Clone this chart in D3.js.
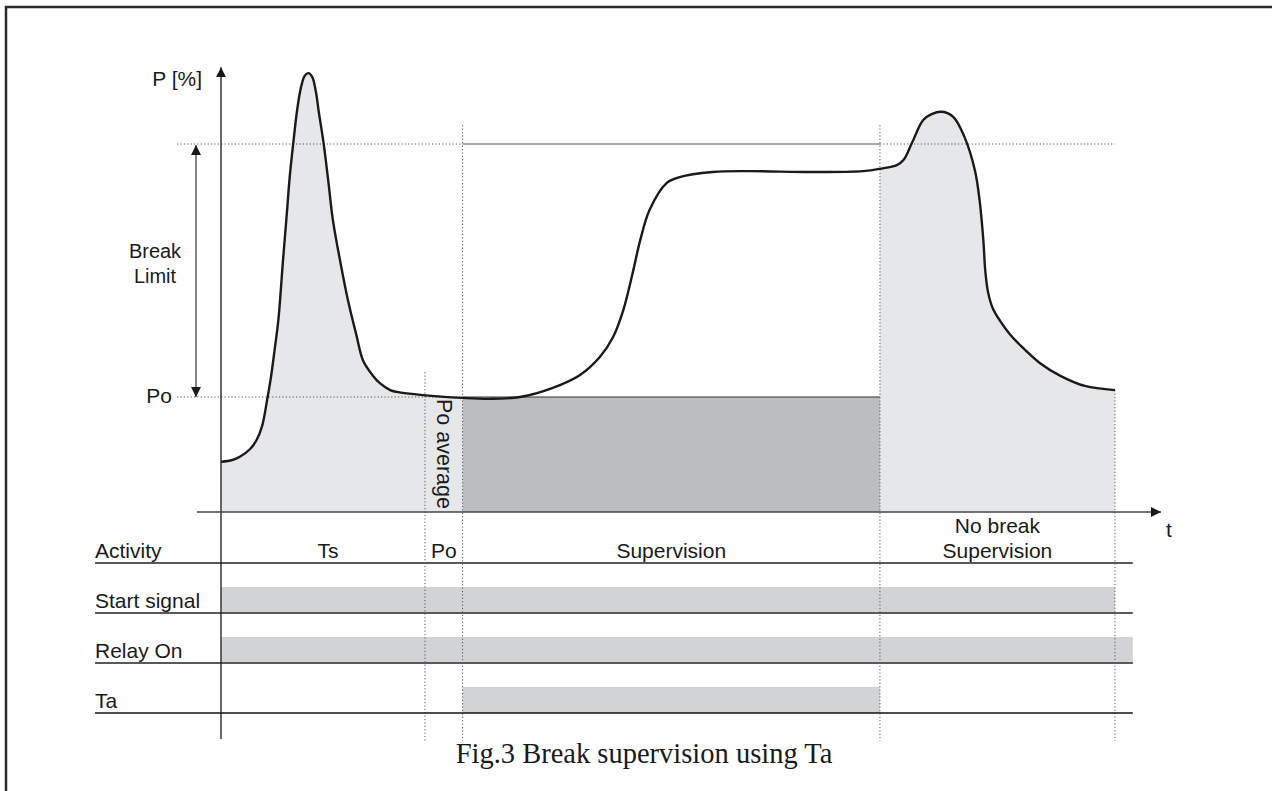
<!DOCTYPE html>
<html>
<head>
<meta charset="utf-8">
<script src="https://cdn.jsdelivr.net/npm/d3@7"></script>
<style>
  html, body { margin: 0; padding: 0; background: #fff; }
  svg { display: block; }
  text { font-family: "Liberation Sans", Arial, sans-serif; fill: #1a1a1a; }
</style>
</head>
<body>
<script>
// ---------- data ----------
const curveT   = [0, 1.2, 2.0, 3.1, 3.8, 4.4, 4.9, 5.3, 5.7, 6.1, 6.6, 7.0, 7.3, 7.7, 8.1, 8.5, 8.9, 9.3, 9.7, 10.1, 10.4, 10.9, 11.4, 11.9, 12.7, 13.5, 14.4, 15.1, 16.1, 16.9, 18.0, 18.7, 21.5, 25.7, 28.6, 31.8, 35.3, 38.2, 40.3, 41.7, 42.8, 43.8, 44.6, 45.6, 47.4, 48.8, 52.3, 56.0, 63.0, 68.3, 70.1, 71.9, 72.6, 73.5, 74.7, 75.6, 76.7, 77.9, 79.1, 80.2, 80.7, 81.1, 81.3, 81.6, 82.1, 82.9, 83.9, 85.0, 87.1, 89.3, 91.9, 95.1];
const curvePct = [10.9, 11.3, 12.0, 13.7, 15.7, 18.9, 24.3, 29.1, 35.2, 41.7, 54.8, 64.8, 72.6, 80.4, 87.4, 92.2, 94.8, 95.4, 94.6, 91.3, 87.0, 80.4, 72.2, 63.5, 54.3, 46.1, 38.5, 33.0, 29.8, 28.0, 26.5, 26.1, 25.4, 24.8, 24.6, 25.0, 27.0, 29.8, 33.7, 38.0, 43.9, 52.0, 59.1, 65.7, 71.5, 72.8, 73.9, 74.1, 73.9, 74.1, 74.6, 75.4, 76.5, 80.2, 85.2, 86.5, 87.0, 85.9, 81.5, 74.3, 67.8, 59.1, 52.6, 47.8, 44.3, 41.5, 38.7, 36.3, 32.4, 29.6, 27.4, 26.5];

const P0 = 25;          // Po level [%]
const breakLimit = 80;  // Po + Break Limit [%]
const pAxisTop = 96.7;
const tAxisEnd = 100;

const phaseNames  = ["Ts", "Po", "Supervision", "No break\nSupervision"];
const phaseStarts = [0, 21.7, 25.7, 70.1];
const phaseEnds   = [21.7, 25.7, 70.1, 95.1];

const rowLabels   = ["Activity", "Start signal", "Relay On", "Ta"];
const signalOn    = [null, 0, 0, 25.7];
const signalOff   = [null, 95.1, 97.0, 70.1];
const rowsEnd     = 97.0;

const title = "Fig.3 Break supervision using Ta";

// ---------- layout ----------
const W = 1272, H = 791;
const x = d3.scaleLinear().domain([0, 100]).range([221, 1161]);
const y = d3.scaleLinear().domain([0, 100]).range([512, 52]);
const rowBottom = d3.scaleLinear().domain([0, 1]).range([563, 613]); // row index -> bottom line
const rowH = 26;
const labelX = 95;
const bottomY = 741;
const leftDotX = 177;
const curveType = d3.curveCatmullRom.alpha(0.5);

const svg = d3.select("body").append("svg").attr("width", W).attr("height", H);
const defs = svg.append("defs");
defs.append("marker").attr("id", "arr")
  .attr("markerUnits", "userSpaceOnUse")
  .attr("markerWidth", 11).attr("markerHeight", 11)
  .attr("refX", 10).attr("refY", 5).attr("orient", "auto-start-reverse")
  .append("path").attr("d", "M0,0 L10,5 L0,10 Z").attr("fill", "#1a1a1a");

const tBreaks = [phaseStarts[0], phaseEnds[1], phaseStarts[3], phaseEnds[3]];
defs.append("clipPath").attr("id", "lightClip").selectAll("rect")
  .data([[tBreaks[0], tBreaks[1]], [tBreaks[2], tBreaks[3]]])
  .join("rect")
  .attr("x", d => x(d[0])).attr("width", d => x(d[1]) - x(d[0]))
  .attr("y", 0).attr("height", y(0));

// frame
svg.append("rect").attr("x", 6).attr("y", 7).attr("width", W + 20).attr("height", H + 20)
  .attr("fill", "none").attr("stroke", "#2a2a2a").attr("stroke-width", 2.5);

const pts = curveT.map((t, i) => ({t, p: curvePct[i]}));

// light fill under curve
svg.append("path").datum(pts)
  .attr("clip-path", "url(#lightClip)")
  .attr("fill", "#e6e7e8")
  .attr("d", d3.area().x(d => x(d.t)).y0(y(0)).y1(d => y(d.p)).curve(curveType));

// dark Po block during Ta
svg.append("rect")
  .attr("x", x(phaseStarts[2])).attr("width", x(phaseEnds[2]) - x(phaseStarts[2]))
  .attr("y", y(P0)).attr("height", y(0) - y(P0))
  .attr("fill", "#bcbdc0");

// timing rows: bars
rowLabels.forEach((lab, i) => {
  if (signalOn[i] !== null) {
    svg.append("rect")
      .attr("x", x(signalOn[i])).attr("width", x(signalOff[i]) - x(signalOn[i]))
      .attr("y", rowBottom(i) - rowH).attr("height", rowH)
      .attr("fill", "#d1d3d4");
  }
});

const dotted = "1.2,2.2";
// horizontal reference lines
svg.append("line").attr("x1", leftDotX).attr("x2", x(phaseStarts[2]))
  .attr("y1", y(breakLimit)).attr("y2", y(breakLimit))
  .attr("stroke", "#555").attr("stroke-width", 1).attr("stroke-dasharray", dotted);
svg.append("line").attr("x1", x(phaseStarts[2])).attr("x2", x(phaseEnds[2]))
  .attr("y1", y(breakLimit)).attr("y2", y(breakLimit))
  .attr("stroke", "#555").attr("stroke-width", 1.2);
svg.append("line").attr("x1", x(phaseEnds[2])).attr("x2", x(phaseEnds[3]))
  .attr("y1", y(breakLimit)).attr("y2", y(breakLimit))
  .attr("stroke", "#555").attr("stroke-width", 1).attr("stroke-dasharray", dotted);

svg.append("line").attr("x1", leftDotX).attr("x2", x(phaseStarts[2]))
  .attr("y1", y(P0)).attr("y2", y(P0))
  .attr("stroke", "#555").attr("stroke-width", 1).attr("stroke-dasharray", dotted);
svg.append("line").attr("x1", x(phaseStarts[2])).attr("x2", x(phaseEnds[2]))
  .attr("y1", y(P0)).attr("y2", y(P0))
  .attr("stroke", "#333").attr("stroke-width", 1.2);

// vertical dotted event lines
const vTop = [y(30.4), y(84.1), y(84.1), y(curvePct[curvePct.length - 1])];
[phaseStarts[1], phaseStarts[2], phaseStarts[3], phaseEnds[3]].forEach((t, i) => {
  svg.append("line").attr("x1", x(t)).attr("x2", x(t))
    .attr("y1", vTop[i]).attr("y2", bottomY)
    .attr("stroke", "#555").attr("stroke-width", 1).attr("stroke-dasharray", dotted);
});

// row lines
rowLabels.forEach((lab, i) => {
  const last = i === rowLabels.length - 1;
  svg.append("line").attr("x1", labelX).attr("x2", x(rowsEnd))
    .attr("y1", rowBottom(i)).attr("y2", rowBottom(i))
    .attr("stroke", last ? "#111" : "#5a5a5a").attr("stroke-width", last ? 1.5 : 2);
  svg.append("text").attr("x", labelX).attr("y", rowBottom(i) - 5.5)
    .attr("font-size", 21).text(lab);
});

// axes
svg.append("line").attr("x1", x(0)).attr("x2", x(0))
  .attr("y1", bottomY - 2).attr("y2", y(pAxisTop))
  .attr("stroke", "#1a1a1a").attr("stroke-width", 1.3).attr("marker-end", "url(#arr)");
svg.append("line").attr("x1", 197).attr("x2", x(tAxisEnd))
  .attr("y1", y(0)).attr("y2", y(0))
  .attr("stroke", "#444").attr("stroke-width", 1.5).attr("marker-end", "url(#arr)");

// break-limit double arrow
svg.append("line").attr("x1", 196).attr("x2", 196)
  .attr("y1", y(P0)).attr("y2", y(breakLimit) + 1)
  .attr("stroke", "#333").attr("stroke-width", 1.2)
  .attr("marker-start", "url(#arr)").attr("marker-end", "url(#arr)");

// curve
svg.append("path").datum(pts)
  .attr("fill", "none").attr("stroke", "#1a1a1a").attr("stroke-width", 2.4)
  .attr("stroke-linejoin", "round")
  .attr("d", d3.line().x(d => x(d.t)).y(d => y(d.p)).curve(curveType));

// labels
svg.append("text").attr("x", 202).attr("y", 86).attr("text-anchor", "end")
  .attr("font-size", 21).text("P [%]");
svg.append("text").attr("x", 1166).attr("y", 537).attr("font-size", 21).text("t");
svg.append("text").attr("x", 172).attr("y", y(P0) + 6).attr("text-anchor", "end")
  .attr("font-size", 21).text("Po");
svg.append("text").attr("x", 155).attr("y", 258).attr("text-anchor", "middle")
  .attr("font-size", 20).text("Break");
svg.append("text").attr("x", 155).attr("y", 283).attr("text-anchor", "middle")
  .attr("font-size", 20).text("Limit");
svg.append("text")
  .attr("transform", `translate(${x((phaseStarts[1] + phaseEnds[1]) / 2) - 6.5},${y(P0) + 2}) rotate(90)`)
  .attr("font-size", 21.5).text("Po average");

// activity phase labels
phaseNames.forEach((name, i) => {
  const lines = name.split("\n");
  const cx = x((phaseStarts[i] + phaseEnds[i]) / 2) + (i === 0 ? 5 : 0);
  lines.forEach((ln, j) => {
    svg.append("text").attr("x", cx)
      .attr("y", rowBottom(0) - 5.5 - (lines.length - 1 - j) * 25)
      .attr("text-anchor", "middle").attr("font-size", 21).text(ln);
  });
});

// title
svg.append("text").attr("x", 644).attr("y", 763).attr("text-anchor", "middle")
  .style("font-family", "'Liberation Serif', 'Times New Roman', serif")
  .attr("font-size", 28.5).text(title);
</script>
</body>
</html>
